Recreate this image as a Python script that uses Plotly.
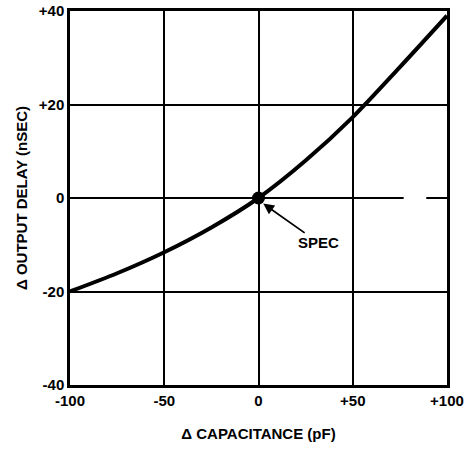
import plotly.graph_objects as go

# Data
cap = [-100, -75, -50, -25, 0, 25, 50, 75, 100]
delay = [-20, -16.1, -11.6, -6.3, 0, 8.0, 17.3, 28.0, 39.0]
spec_x = [0]
spec_y = [0]
x_ticks = [-100, -50, 0, 50, 100]
x_tick_text = ["-100", "-50", "0", "+50", "+100"]
y_ticks = [-40, -20, 0, 20, 40]
y_tick_text = ["-40", "-20", "0", "+20", "+40"]

FONT = "Arial, Liberation Sans, sans-serif"

fig = go.Figure()
fig.add_trace(go.Scatter(x=cap, y=delay, mode="lines",
                         line=dict(color="black", width=4, shape="spline", smoothing=0.8),
                         hoverinfo="skip", showlegend=False))
fig.add_trace(go.Scatter(x=spec_x, y=spec_y, mode="markers",
                         marker=dict(color="black", size=13),
                         showlegend=False))

# gap in the zero grid line on the right
fig.add_shape(type="line", x0=77, x1=89, y0=0, y1=0, xref="x", yref="y",
              line=dict(color="white", width=4), layer="between")

fig.add_annotation(x=2.5, y=-1.2, xref="x", yref="y",
                   ax=32, ay=-9.6, axref="x", ayref="y",
                   text="<b>SPEC</b>", showarrow=True,
                   arrowhead=2, arrowsize=1.2, arrowwidth=1.8, arrowcolor="black",
                   font=dict(family=FONT, size=15, color="black"))

axis_common = dict(showgrid=True, gridcolor="black", gridwidth=1.5,
                   showline=True, linecolor="black", linewidth=2.5, mirror=True,
                   zeroline=False, ticks="", automargin=False,
                   tickfont=dict(family=FONT, size=15, color="black"))

fig.update_xaxes(range=[-100, 100], tickvals=x_ticks, ticktext=["<b>%s</b>" % t for t in x_tick_text],
                 title=dict(text="<b>Δ CAPACITANCE (pF)</b>", font=dict(family=FONT, size=15, color="black"),
                            standoff=21),
                 **axis_common)
fig.update_yaxes(range=[-40, 40], tickvals=y_ticks, ticktext=["<b>%s</b>" % t for t in y_tick_text],
                 title=dict(text="<b>Δ OUTPUT DELAY (nSEC)</b>", font=dict(family=FONT, size=15, color="black"),
                            standoff=8),
                 **axis_common)

fig.update_layout(width=468, height=450,
                  margin=dict(l=70, r=21, t=11, b=65),
                  plot_bgcolor="white", paper_bgcolor="white")

fig.write_html("out.html", config={"displayModeBar": False},
               post_script="document.body.style.margin='0';")
